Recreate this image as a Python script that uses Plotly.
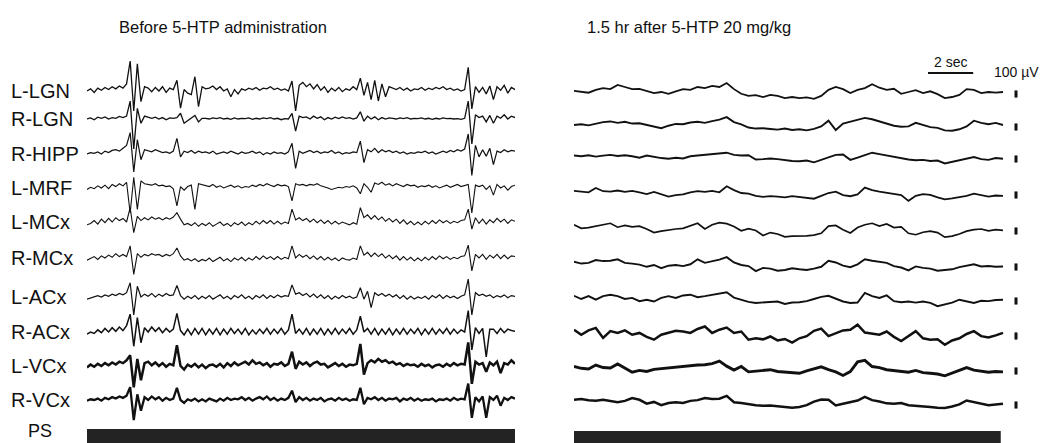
import numpy as np
import plotly.graph_objects as go

# ---------------- data ----------------
channels = ["L-LGN", "R-LGN", "R-HIPP", "L-MRF", "L-MCx", "R-MCx", "L-ACx", "R-ACx", "L-VCx", "R-VCx"]
title_before = "Before 5-HTP administration"
title_after = "1.5 hr after 5-HTP 20 mg/kg"
duration_s = 19.0          # seconds shown in each panel
scale_time_s = 2.0         # time calibration
scale_amp_uv = 100.0       # amplitude calibration
ps_epochs_before = [(0.0, 19.0)]   # paradoxical sleep marker (s)
ps_epochs_after = [(0.0, 19.0)]

# EEG values (µV), before 5-HTP
before_L_LGN = [0, 30, -20, 40, 10, 50, 20, 60, 30, 70, 40,
                100, 420, -280, 380, -150, 60,
                40, -10, 50, 0, 60, -20, 40, 20,
                150, -240, 20, -30, -50, 200, -220, 60, 30,
                40, 70, 20, 60, 0, 30,
                -80, 20, -40, 30, 10, 40,
                20, 50, 10, 40, 30, 60, 20, 40, 10, 30, 0,
                140, -280, 80, 120,
                60, 100, 30, 90, 10, 60, -20, 40, 0, 50, -10, 30, 10, 60, 20,
                180, -60, 120, -120, 150, -140, 100, -80, 60,
                40, 20, 50, 10, 40, 0, 30, 20, 50, 10, 40, 20, 50, 30, 60, 20, 40, 10, 30, 0, 20,
                330, -250, 60, -20,
                50, -40, 70, -120, 60, 10, 80, -30, 50, 20]
before_R_LGN = [0, 15, -10, 25, 10, 30, 0, 20, 10, 35, 20,
                40, 250, -420, 150, -60, 40,
                30, 10, 25, 0, 20, -10, 15, 10,
                20, 80, -60, -20, 10, 50, -40, 10,
                10, 0, 15, 5, 20, 0, 10, -5, 15, 0, 10, 5, 15, -5, 10, 0, 15, 5, 20, 0, 10, -10, 5, 0,
                80, -170, 40, 20,
                30, 0, 40, 10, 30, -10, 20, 0, 25, 5, 30, 10, 20, 0, 15,
                100, -30, 40, 0, 30, -10, 20, 0, 15,
                10, 0, 15, 5, 20, 0, 10, 5, 15, 0, 10, -5, 10, 0, 15, 5, 10, 0, 5, -5, 10,
                250, -350, 60, 20,
                40, -40, 50, -60, 40, 10, 60, 0, 40, 20]
before_R_HIPP = [0, 20, 10, 30, 0, 40, 20, 50, 60, 40, 80,
                 120, 300, -250, 200, -80, 60,
                 50, 30, 60, 40, 20, 30, 10, 40,
                 220, -40, 40, 20, 50, 10, 40, 20,
                 30, 10, 40, 0, 20, 30, 10, 40, 20, 0, 30, 10, 20, 40, 10, 30, -10, 20, 0, 30, 10, 20, 0, 30,
                 150, -200, 40, 10,
                 30, 50, 20, 40, 10, 30, 20, 50, 10, 30, 0, 20, 10, 30, 20,
                 180, -120, 60, 30, 80, 20, 60, 30, 50,
                 20, 40, 10, 30, 0, 20, 10, 30, 20, 40, 10, 30, 0, 20, 40, 20, 50, 30, 60, 40, 70,
                 280, -300, 120, -40,
                 60, -30, 80, -150, 40, 20, 60, 30, 50, 40]
before_L_MRF = [-20, 10, -10, 30, 0, 40, -10, 50, 20, 60, 30,
                80, -350, 150, -300, 100, 60,
                50, 40, 60, 30, 40, 20, 30, -10,
                -250, 20, -30, 20, 40, -300, 60, 50,
                40, 20, 50, 10, 30, 0, 20, 40, 10, 30, 0, 20, 10, 40, 20, 50, 30, 60, 40, 20, 50, 30, 40, 20,
                -180, 60, 40, 50,
                30, 50, 40, 60, 30, 20, 0, -20, -10, 10, 0, 20, 10, 30, 0,
                -80, 60, 10, -60, 70, 50, 80, 40, 60,
                30, 60, 40, 20, 50, 30, 40, 10, 30, 20, 40, 10, 30, 0, 20, 40, 10, 30, 50, 20, 40,
                50, -350, 40, 20,
                40, -20, 30, -100, 50, 0, 30, -30, 20, 40]
before_L_MCx = [-40, -20, 20, -30, 40, -10, 50, 0, 60, 20, 50,
                0, 200, -150, 80, 20,
                60, 30, 70, 40, 60, 30, 60, 40, 70,
                130, 40, -40, -20,
                -50, -10, -60, -20, -50, -10, -60, -30, 0, -50, -20, -60, -10, -40, 0, -50, -10, -40, 10, -30, 20, -20, 20, -30, 10, -30, 0, -20,
                180, 30, 60,
                20, 50, 0, 40, -10, 30, -20, 20, -30, 10, -30, 0, -20, -40, -10, -30,
                200, 60, 100, 40, 90, 30, 70,
                10, 50, 0, 40, -20, 30, -30, 10, -40, 0, -40, 10, -30, 20, -20, 30, -10, 20, -20, 10, -10, 20, 30,
                180, -100, 60, -20,
                40, -30, 30, -10, 50, 0, 40, -20, 30, 10]
before_R_MCx = [-30, -10, 20, -20, 30, 0, 40, 10, 60, 20, 50,
                20, 170, -230, 60, 10,
                50, 30, 60, 40, 50, 20, 50, 30, 60,
                140, 30, -30, -10,
                -40, -10, -50, -20, -40, 0, -50, -20, 10, -40, -10, -50, 0, -30, 10, -40, 0, -30, 20, -20, 30, -10, 20, -20, 20, -20, 10, -10,
                170, 0, 50,
                10, 40, -10, 30, -20, 20, -30, 10, -30, 0, -40, 0, -20, -30, 0, -20,
                170, 40, 80, 20, 70, 20, 60,
                0, 40, -10, 30, -30, 20, -30, 10, -40, 0, -40, 10, -30, 20, -20, 30, -10, 20, -20, 10, -10, 20, 30,
                180, -180, 50, 0,
                50, -20, 40, 0, 50, -10, 40, -10, 30, 20]
before_L_ACx = [-30, -10, 0, 20, 0, 30, 10, 40, 20, 50, 30,
                60, 200, -250, 150, 0,
                40, 10, 50, 0, 40, 10, 50, 20, 30,
                160, 20, -30, 10,
                -20, 20, -30, 10, -20, 20, -30, 0, 30, -20, 10, -30, 20, -10, 30, -20, 10, -30, 20, -10, 30, -20, 20, -10, 30, 0, 20, 10,
                170, 40, 60,
                20, 50, 0, 40, -10, 30, -20, 20, -30, 10, -20, 20, -10, 10, -20, 0,
                130, -30, 80, -150, 60, 20, 50,
                10, 40, 0, 30, -20, 20, -30, 10, -30, 0, -20, 10, -30, 20, -10, 30, -20, 20, -10, 10, -20, 10, 30,
                250, -250, 60, 20,
                40, 10, 30, -10, 20, 0, 30, -10, 20, 10]
before_R_ACx = [-30, 0, -20, 30, -10, 50, 0, 60, 10, 70, 20,
                90, 250, -200, 200, -150,
                60, 0, 70, 10, 60, -10, 50, 0, 40,
                260, 20, -40,
                40, -40, 50, -30, 50, -40, 40, -30, 50, -40, 40, -30, 50, -20, 40, -30, 50, -40, 30, -30, 40, -20, 50, -30, 40, -20, 50, -30, 30,
                250, -20, 40,
                -30, 50, -40, 40, -30, 50, -40, 40, -30, 50, -30, 40, -20, 50, -30, 30,
                220, 0, 50,
                -30, 50, -40, 40, -30, 50, -40, 40, -30, 50, -30, 40, -20, 50, -40, 40, -30, 50, -30, 40, -20, 50, -30, 40, -20, 30, 0,
                300, -250, 60, -20,
                50, -350, 40, 40, -20, 50, -10, 40, 20, 10]
before_L_VCx = [-20, 20, -10, 30, 0, 40, 10, 50, 20, 60, 40,
                80, 150, -300, 100, -200,
                40, 60, 10, 50, 0, 40, -10, 30, 10,
                290, 0, -50, 20,
                -10, 30, -20, 20, -30, 10, 20, -10, 30, -20, 40, 0, 50, 10, 40, 60, 20, 80, 30, 50, 10, 40, -10, 30, 20, 50, 0, 30,
                200, -40, 60, 20,
                50, 0, 40, 60, 20, 30, -20, 10, 40, 0, 30, -10, 20, 10, 30,
                310, -120, 40, 80,
                50, 100, 60, 80, 40, 60, 20, 40, 0, 30, 10, 20, -10, 30, 0, 20, -20, 10, 20, -10, 30, 0, 40, 10, 30, 20,
                330, -250, 60, 20,
                40, -80, 50, 10, 60, -100, 40, 20, 80, 30]
before_R_VCx = [-10, 10, 0, 20, -10, 30, 10, 40, 20, 50, 30,
                60, 180, -280, 80, -150,
                40, 0, 50, 10, 40, -10, 30, 0, 20,
                170, 0, -40, 10,
                -10, 20, -20, 10, -20, 20, 0, -20, 20, -10, 30, 0, 20, 10, 40, 0, 30, -10, 20, 40, 10, 50, 0, 30, -10, 20, 0, 30,
                130, -30, 40, 0,
                30, -10, 20, 0, 30, -20, 10, 20, -10, 30, 0, 20, -10, 10, 0,
                170, -60, 30, 10,
                40, 0, 30, -10, 20, 10, 30, -20, 20, 0, 30, -10, 20, -10, 10, 0, 20, -20, 10, 0, 20, -10, 30, 0, 20, 10,
                230, -250, 40, -20,
                50, -250, 40, 0, 60, -80, 30, 0, 40, 20]

# EEG values (µV), 1.5 hr after 5-HTP
after_L_LGN = [15, 0, -10, 30, 55, 40, 100, 70, 40, 45, 15, -15, 0, -25, 10, 40, 30, 70, 55, 85,
               70, 125, 40, -25, -55, -45, -70, -40, -55, -85, -70, -85, -75, -95, -55, 30, 70, 40, -15, 30,
               55, 110, 60, 30, 45, -25, 0, 25, -15, 10, -30, -85, -70, -40, 40, 30, -15, 0, -10, 0]
after_R_LGN = [0, 10, -5, 20, 40, 50, 30, 45, 20, 25, 0, -20, -45, -10, 15, 10, 35, 45, 30, 55,
               75, 110, 40, 10, -35, -50, -45, -55, -65, -50, -70, -60, -75, -55, -20, 60, -70, 20, 45, 65,
               100, 80, 50, 20, -10, -25, -20, 30, -5, -30, -40, -75, -80, -60, -20, 60, 30, 10, 30, 0]
after_R_HIPP = [20, 10, 25, 5, 20, 30, 15, 25, 10, -10, 20, 0, -15, -25, -10, -20, 10, 20, 30, 35,
                40, 60, 30, 20, 25, -35, -30, -20, -30, -45, -55, -60, -50, -75, -40, 0, 30, 35, -40, -10,
                20, 60, 40, 20, 0, -20, -35, -45, -40, -55, -50, -90, -70, -50, -20, 0, -30, -40, -15, -25]
after_L_MRF = [30, 20, 10, 70, 25, 20, 35, 15, 30, 10, -15, 15, -20, -50, -30, -20, 10, 25, 15, 30,
               10, 95, 40, 0, -10, -40, -55, -45, -50, -60, -45, -60, -70, -80, -40, 0, 20, -30, -45, -20,
               75, 40, 20, 0, -15, -30, -110, -40, -15, -25, -60, -90, -75, -60, -40, -10, -30, -50, -35, -40]
after_L_MCx = [60, 10, 20, 40, 55, 80, 25, 50, 30, 40, 0, -50, -30, -10, 0, 10, 40, 80, 0, 60,
               90, 75, 35, -25, 5, -20, -90, -50, -70, -110, -100, -100, -95, -85, -60, 40, 50, -10, -55, 20,
               60, 80, 40, 70, 20, 30, -60, -80, -45, -30, -50, -115, -100, -70, -30, -10, 0, -25, -10, -20]
after_R_MCx = [45, 20, 30, 70, 55, 60, 80, 30, 20, 5, -25, 0, -45, -10, 0, -15, 10, 80, 30, 50,
               75, 110, 35, 0, -15, -85, -40, -50, -80, -70, -45, -60, -70, -50, -25, 60, 35, -10, -30, 10,
               80, 60, 40, 30, -15, -35, -75, -20, -40, -50, -80, -75, -60, -30, -10, 10, -20, -15, -25, -20]
after_L_ACx = [45, 0, 40, -10, 40, 60, 40, 0, 15, -30, -10, -35, 15, 40, 15, 50, 60, 25, 40, 55,
               75, 95, 20, -10, -40, -55, -45, -40, -35, -70, -50, -45, -30, 0, 30, 45, 0, -35, -55, -50,
               85, 40, 15, 50, -30, -45, -35, -50, -35, -55, -100, -80, -50, -10, -30, -55, -25, -30, -15, -10]
after_R_ACx = [60, -10, 50, 85, -55, 40, 15, 50, -10, 15, -40, -80, -10, 15, 45, 35, 15, 70, 105, 15,
               60, 90, 15, 35, -80, -60, -75, -35, -90, -70, -120, -60, -30, 45, 75, -30, 10, 50, 60, 130,
               20, 0, -10, 35, -40, -100, -30, 40, -60, -80, -75, -150, -90, -60, 0, 40, -30, -50, -20, 15]
after_L_VCx = [35, 10, 0, 55, 20, 15, 70, 10, -45, -20, -35, -5, 5, 15, 35, 45, 50, 55, 60, 75,
               110, 40, -15, 35, -40, -30, -25, -10, -35, -40, -55, -60, -25, 0, 30, -10, -40, -90, -35, 100,
               120, 35, 20, -10, -25, -30, -45, -20, -50, -60, -70, -95, -60, -20, 20, -15, -30, -45, -35, -40]
after_R_VCx = [45, 55, 40, 30, 45, 25, 10, 30, 70, 45, -10, 15, -30, 0, 10, 0, 30, 40, 70, 55,
               60, 100, 10, 0, -20, -30, -40, -35, -45, -50, -65, -55, -30, 20, 50, 45, -35, -10, 10, 35,
               85, 40, 20, -5, -10, 0, -30, -35, -45, -55, -65, -70, -50, -20, 35, 10, -10, -30, -20, -10]

before = [before_L_LGN, before_R_LGN, before_R_HIPP, before_L_MRF, before_L_MCx,
          before_R_MCx, before_L_ACx, before_R_ACx, before_L_VCx, before_R_VCx]
after = [after_L_LGN, after_R_LGN, after_R_HIPP, after_L_MRF, after_L_MCx,
         after_R_MCx, after_L_ACx, after_R_ACx, after_L_VCx, after_R_VCx]

# ---------------- layout / style ----------------
W, H = 1045, 443
UV_PER_PX = 14.0
left_rows = [91, 119, 154, 188, 222, 258, 297, 332, 366, 400]
right_rows = [92, 125, 157, 193, 229, 265, 299, 334, 369, 403]
w_left = [1.3, 1.3, 1.2, 1.1, 1.1, 1.1, 1.2, 1.5, 2.5, 2.3]
w_right = [1.8, 1.9, 1.9, 1.8, 1.7, 1.9, 1.9, 2.5, 2.9, 2.5]
LX0, LX1 = 87, 515
RX0, RX1 = 574, 1003
ink = "#111111"
FONT = "Arial, Liberation Sans, Helvetica, sans-serif"

fig = go.Figure()

for k, vals in enumerate(before):
    v = np.asarray(vals, dtype=float)
    t = np.linspace(0, duration_s, len(v))
    fig.add_trace(go.Scatter(x=t, y=-left_rows[k] + v / UV_PER_PX, mode="lines",
                             line=dict(color=ink, width=w_left[k]), xaxis="x", yaxis="y",
                             hoverinfo="skip", showlegend=False))
for k, vals in enumerate(after):
    v = np.asarray(vals, dtype=float)
    t = np.linspace(0, duration_s, len(v))
    fig.add_trace(go.Scatter(x=t, y=-right_rows[k] + v / UV_PER_PX, mode="lines",
                             line=dict(color=ink, width=w_right[k]), xaxis="x2", yaxis="y",
                             hoverinfo="skip", showlegend=False))

sec_per_px = duration_s / (RX1 - RX0)
x2_max = (W - RX0) * sec_per_px

shapes = []
# amplitude calibration marks
tick_t = (1016 - RX0) * sec_per_px
for r in right_rows:
    c = -(r + 2)
    shapes.append(dict(type="line", xref="x2", yref="y", x0=tick_t, x1=tick_t,
                       y0=c - scale_amp_uv / 2 / UV_PER_PX, y1=c + scale_amp_uv / 2 / UV_PER_PX,
                       line=dict(color=ink, width=3)))
# time calibration bar
bar_t0 = (928 - RX0) * sec_per_px
shapes.append(dict(type="line", xref="x2", yref="y", x0=bar_t0, x1=bar_t0 + scale_time_s,
                   y0=-73, y1=-73, line=dict(color=ink, width=2)))
# PS bars
for (a, b) in ps_epochs_before:
    shapes.append(dict(type="rect", xref="x", yref="y", x0=a - 0.05, x1=b + 0.05, y0=-443, y1=-429,
                       fillcolor="#232323", line=dict(width=0)))
for (a, b) in ps_epochs_after:
    shapes.append(dict(type="rect", xref="x2", yref="y", x0=a - 0.05, x1=b - 0.1, y0=-443, y1=-431,
                       fillcolor="#232323", line=dict(width=0)))

ann = []
for k, name in enumerate(channels):
    ann.append(dict(text=name, xref="paper", yref="y", x=9 / W, y=-left_rows[k], xanchor="left",
                    yanchor="middle", showarrow=False, font=dict(family=FONT, size=20, color=ink)))
ann.append(dict(text="PS", xref="paper", yref="y", x=40 / W, y=-431, xanchor="center",
                yanchor="middle", showarrow=False, font=dict(family=FONT, size=18, color=ink)))
ann.append(dict(text=title_before, xref="paper", yref="y", x=117 / W, y=-27, xanchor="left",
                yanchor="middle", showarrow=False, font=dict(family=FONT, size=16.5, color=ink)))
ann.append(dict(text=title_after, xref="paper", yref="y", x=585 / W, y=-27, xanchor="left",
                yanchor="middle", showarrow=False, font=dict(family=FONT, size=16.5, color=ink)))
ann.append(dict(text="2 sec", xref="paper", yref="y", x=950 / W, y=-62, xanchor="center",
                yanchor="middle", showarrow=False, font=dict(family=FONT, size=14, color=ink)))
ann.append(dict(text="100 \u00b5V", xref="paper", yref="y", x=1041 / W, y=-72, xanchor="right",
                yanchor="middle", showarrow=False, font=dict(family=FONT, size=14, color=ink)))

fig.update_layout(
    width=W, height=H, margin=dict(l=0, r=0, t=0, b=0),
    paper_bgcolor="white", plot_bgcolor="white",
    xaxis=dict(domain=[LX0 / W, LX1 / W], range=[0, duration_s], visible=False, fixedrange=True),
    xaxis2=dict(domain=[RX0 / W, 1.0], range=[0, x2_max], visible=False, anchor="y", fixedrange=True),
    yaxis=dict(domain=[0, 1], range=[-H, 0], visible=False, fixedrange=True),
    shapes=shapes, annotations=ann, showlegend=False,
)
fig.write_html("out.html", config={"displayModeBar": False},
               post_script="document.body.style.margin='0';document.body.style.overflow='hidden';")
